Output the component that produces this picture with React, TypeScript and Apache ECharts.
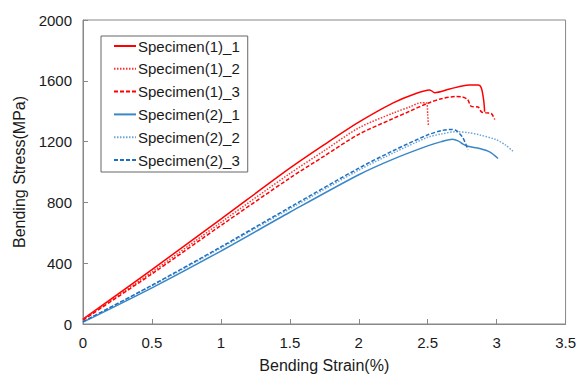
import React, { useEffect, useRef } from "react";
import * as echarts from "echarts";

const seriesNames = [
  "Specimen(1)_1",
  "Specimen(1)_2",
  "Specimen(1)_3",
  "Specimen(2)_1",
  "Specimen(2)_2",
  "Specimen(2)_3",
];

const s11: [number, number][] = [
  [0, 32], [0.5, 358], [1.0, 690], [1.5, 1025], [1.75, 1180], [2.0, 1328], [2.25, 1455],
  [2.4, 1512], [2.514, 1540], [2.551, 1522], [2.66, 1546], [2.8, 1572], [2.865, 1572],
  [2.889, 1553], [2.906, 1471], [2.913, 1396],
];
const s12: [number, number][] = [
  [0, 30], [0.5, 342], [1.0, 668], [1.5, 990], [1.75, 1140], [2.0, 1290], [2.25, 1388],
  [2.37, 1428], [2.454, 1456], [2.49, 1455], [2.5, 1380], [2.505, 1305],
];
const s13: [number, number][] = [
  [0, 26], [0.5, 330], [1.0, 648], [1.5, 960], [1.75, 1105], [2.0, 1248], [2.25, 1352],
  [2.37, 1400], [2.5, 1452], [2.6, 1482], [2.7, 1496], [2.75, 1494], [2.79, 1476],
  [2.816, 1432], [2.865, 1428], [2.889, 1396], [2.925, 1389], [2.961, 1385], [2.986, 1346],
];
const s21: [number, number][] = [
  [0, 12], [0.5, 238], [1.0, 480], [1.5, 735], [2.0, 982], [2.25, 1085], [2.5, 1172],
  [2.6, 1200], [2.68, 1216], [2.72, 1205], [2.756, 1184], [2.792, 1169], [2.877, 1154],
  [2.949, 1132], [3.01, 1089],
];
const s22: [number, number][] = [
  [0, 15], [0.5, 252], [1.0, 500], [1.5, 758], [2.0, 1012], [2.25, 1125], [2.5, 1228],
  [2.6, 1250], [2.708, 1265], [2.8, 1258], [2.877, 1244], [2.998, 1212], [3.06, 1180],
  [3.118, 1137],
];
const s23: [number, number][] = [
  [0, 15], [0.5, 255], [1.0, 507], [1.5, 768], [2.0, 1025], [2.25, 1140], [2.5, 1244],
  [2.6, 1272], [2.66, 1280], [2.708, 1272], [2.756, 1223], [2.792, 1147],
];

const yTicks = [0, 400, 800, 1200, 1600, 2000];

const seriesData = [s11, s12, s13, s21, s22, s23];
const seriesColors = ["#ff0000", "#ff3030", "#ff0000", "#3a87c8", "#6aa8dc", "#1f6fc0"];
const seriesDash: (string | number[])[] = ["solid", [1.5, 1.5], [4, 2], "solid", [1.5, 1.5], [4, 2]];

const FONT = "Liberation Sans, Arial, sans-serif";

export default function App() {
  const ref = useRef<HTMLDivElement>(null);
  useEffect(() => {
    if (!ref.current) return;
    const chart = echarts.init(ref.current, undefined, { renderer: "svg" });
    chart.setOption({
      animation: false,
      backgroundColor: "#ffffff",
      grid: {
        left: 83,
        right: 13,
        top: 20,
        bottom: 49,
        show: true,
        borderColor: "#888888",
        borderWidth: 1,
      },
      legend: {
        orient: "vertical",
        left: 101,
        top: 36,
        padding: [2, 8, 4, 12],
        itemGap: 6.8,
        itemWidth: 22,
        itemHeight: 16,
        borderColor: "#666666",
        borderWidth: 1,
        backgroundColor: "#ffffff",
        itemStyle: { opacity: 0, borderWidth: 0 },
        textStyle: { fontFamily: FONT, fontSize: 15, color: "#1a1a1a", lineHeight: 16, padding: [0, 0, 0, -3] },
        data: seriesNames,
      },
      xAxis: {
        type: "value",
        min: 0,
        max: 3.5,
        interval: 0.5,
        name: "Bending Strain(%)",
        nameLocation: "middle",
        nameGap: 33,
        nameTextStyle: { fontFamily: FONT, fontSize: 16, color: "#1a1a1a" },
        axisLine: { show: true, lineStyle: { color: "#888888", width: 1 } },
        axisTick: { show: true, inside: true, length: 5, lineStyle: { color: "#888888" } },
        axisLabel: { fontFamily: FONT, fontSize: 15, color: "#1a1a1a", margin: 11 },
        splitLine: { show: false },
      },
      yAxis: {
        type: "value",
        min: yTicks[0],
        max: yTicks[yTicks.length - 1],
        interval: 400,
        name: "Bending Stress(MPa)",
        nameLocation: "middle",
        nameGap: 51,
        nameTextStyle: { fontFamily: FONT, fontSize: 16, color: "#1a1a1a" },
        axisLine: { show: true, lineStyle: { color: "#888888", width: 1 } },
        axisTick: { show: true, inside: true, length: 5, lineStyle: { color: "#888888" } },
        axisLabel: {
          fontFamily: FONT,
          fontSize: 15,
          color: "#1a1a1a",
          margin: 11,
          formatter: (v: number) => String(v),
        },
        splitLine: { show: false },
      },
      series: seriesNames.map((name, i) => ({
        name,
        type: "line",
        data: seriesData[i],
        showSymbol: false,
        symbol: "none",
        smooth: 0.3,
        color: seriesColors[i],
        lineStyle: { color: seriesColors[i], width: 1.5, type: seriesDash[i] },
      })),
    });
    return () => chart.dispose();
  }, []);
  return <div ref={ref} style={{ width: 579, height: 378, position: "absolute", left: 0, top: 0 }} />;
}
